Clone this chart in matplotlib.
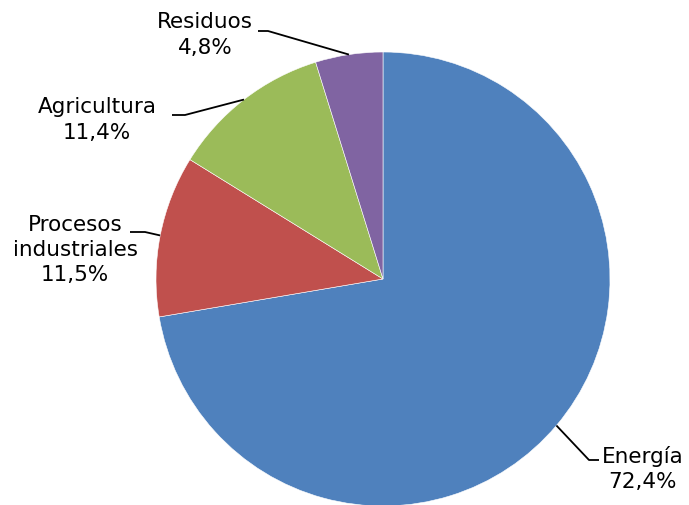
import numpy as np
import matplotlib
matplotlib.use("Agg")
import matplotlib.pyplot as plt

# Datos
categorias = ["Energía", "Procesos\nindustriales", "Agricultura", "Residuos"]
porcentajes = [72.4, 11.5, 11.4, 4.8]
etiquetas = ["72,4%", "11,5%", "11,4%", "4,8%"]
colores = ["#4F81BD", "#C0504D", "#9BBB59", "#8064A2"]

W, H = 689, 506
fig = plt.figure(figsize=(W / 100, H / 100), dpi=100)
ax = fig.add_axes([0, 0, 1, 1])

cx, cy, r = 383, 280, 227  # centro y radio en pixeles (y hacia abajo)

wedges, _ = ax.pie(porcentajes, colors=colores, startangle=90, counterclock=False,
                   center=(cx, H - cy), radius=r,
                   wedgeprops=dict(edgecolor="white", linewidth=0.4))

# posiciones de texto y codos de las líneas guía (pixeles)
pos_texto = [(643, 469), (75, 250), (97, 120), (205, 35)]
codos = [((589, 461), (599, 461)), ((145, 233), (130, 233)),
         ((185, 116), (172, 116)), ((268, 32), (258, 32))]

for w, cat, et, (tx, ty), (codo, fin) in zip(wedges, categorias, etiquetas, pos_texto, codos):
    ang = np.deg2rad((w.theta1 + w.theta2) / 2)
    ax_x = cx + r * np.cos(ang)
    ax_y = (H - cy) + r * np.sin(ang)
    ax.plot([ax_x, codo[0], fin[0]], [ax_y, H - codo[1], H - fin[1]],
            color="black", lw=1.3, solid_capstyle="butt")
    ax.text(tx, H - ty, f"{cat}\n{et}", ha="center", va="center",
            fontsize=15.5, linespacing=1.32, color="black")

ax.set_xlim(0, W)
ax.set_ylim(0, H)
ax.set_aspect("equal")
ax.axis("off")

plt.savefig("out.png", dpi=100)
